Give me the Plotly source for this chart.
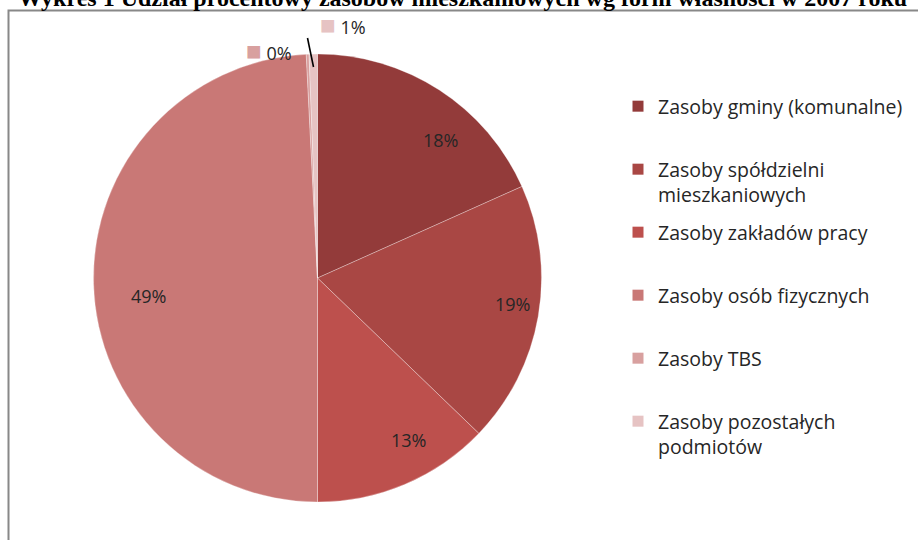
import plotly.graph_objects as go

# ---- data ----
categories = [
    "Zasoby gminy (komunalne)",
    "Zasoby spółdzielni mieszkaniowych",
    "Zasoby zakładów pracy",
    "Zasoby osób fizycznych",
    "Zasoby TBS",
    "Zasoby pozostałych podmiotów",
]
legend_labels = [
    "Zasoby gminy (komunalne)",
    "Zasoby spółdzielni<br>mieszkaniowych",
    "Zasoby zakładów pracy",
    "Zasoby osób fizycznych",
    "Zasoby TBS",
    "Zasoby pozostałych<br>podmiotów",
]
shares = [18.3, 18.9, 12.8, 49.2, 0.2, 0.6]
colors = ["#933B3A", "#A94744", "#BD504D", "#C97876", "#D8A09F", "#E6C3C3"]
title_text = "Wykres 1 Udział procentowy zasobów mieszkaniowych wg form własności w 2007 roku"

# label placement (pixels) – layout only
inside_label_pos = [(440, 140), (512, 304), (408, 440), (148, 296)]
outside_label_pos = [(4, 269, 50), (5, 343, 24)]

W, H = 918, 540
def px(x):
    return x / W
def py(y):
    return 1 - y / H

fig = go.Figure()

# pie
cx, cy, r = 317.5, 278, 224
fig.add_trace(go.Pie(
    labels=categories,
    values=shares,
    sort=False,
    direction="clockwise",
    rotation=0,
    marker=dict(colors=colors, line=dict(color="rgba(255,255,255,0.5)", width=0.6)),
    textinfo="none",
    domain=dict(x=[px(cx - r), px(cx + r)], y=[py(cy + r), py(cy - r)]),
    showlegend=False,
    hoverinfo="label+percent",
))

# legend entries (one group per category, so spacing can be set)
for i, (lab, col) in enumerate(zip(legend_labels, colors)):
    txt = lab if "<br>" in lab else lab + "<br> "
    fig.add_trace(go.Scatter(
        x=[None], y=[None], mode="markers",
        marker=dict(symbol="square", size=11, color=col),
        name=txt, legendgroup=f"g{i}", showlegend=True,
    ))

total = sum(shares)
pcts = [round(v / total * 100) for v in shares]

annotations = [
    dict(text=f"<b>{title_text}</b>", x=px(462), y=py(-2), xref="paper", yref="paper",
         xanchor="center", yanchor="middle", showarrow=False,
         font=dict(family="Liberation Serif", size=24, color="#000000")),
]
for i, (lx, ly) in enumerate(inside_label_pos):
    annotations.append(dict(
        text=f"{pcts[i]}%", x=px(lx), y=py(ly), xref="paper", yref="paper",
        xanchor="center", yanchor="middle", showarrow=False,
        font=dict(family="Open Sans", size=18, color="#262626"),
    ))
# outside labels for the two tiny slices
for idx, lx, ly in outside_label_pos:
    annotations.append(dict(
        text=f"<span style='color:{colors[idx]};font-size:26px'>■</span> {pcts[idx]}%",
        x=px(lx), y=py(ly), xref="paper", yref="paper",
        xanchor="center", yanchor="middle", showarrow=False,
        font=dict(family="Open Sans", size=18, color="#262626"),
    ))

fig.update_layout(
    width=W, height=H,
    margin=dict(l=0, r=0, t=0, b=0),
    paper_bgcolor="white", plot_bgcolor="white",
    xaxis=dict(visible=False), yaxis=dict(visible=False),
    showlegend=True,
    legend=dict(
        x=px(618), y=py(87), xanchor="left", yanchor="top",
        font=dict(family="Open Sans", size=19.5, color="#262626"),
        valign="top", tracegroupgap=9.3, itemwidth=30,
        bgcolor="rgba(0,0,0,0)",
    ),
    annotations=annotations,
    shapes=[
        dict(type="rect", xref="paper", yref="paper",
             x0=px(8.5), x1=1.05, y0=-0.05, y1=py(10.5),
             line=dict(color="#888888", width=2)),
        dict(type="line", xref="paper", yref="paper",
             x0=px(307.5), y0=py(38), x1=px(313.5), y1=py(67),
             line=dict(color="#000000", width=1.6)),
    ],
)

fig.write_html("out.html", config={"displayModeBar": False},
               post_script="document.body.style.margin='0';")
